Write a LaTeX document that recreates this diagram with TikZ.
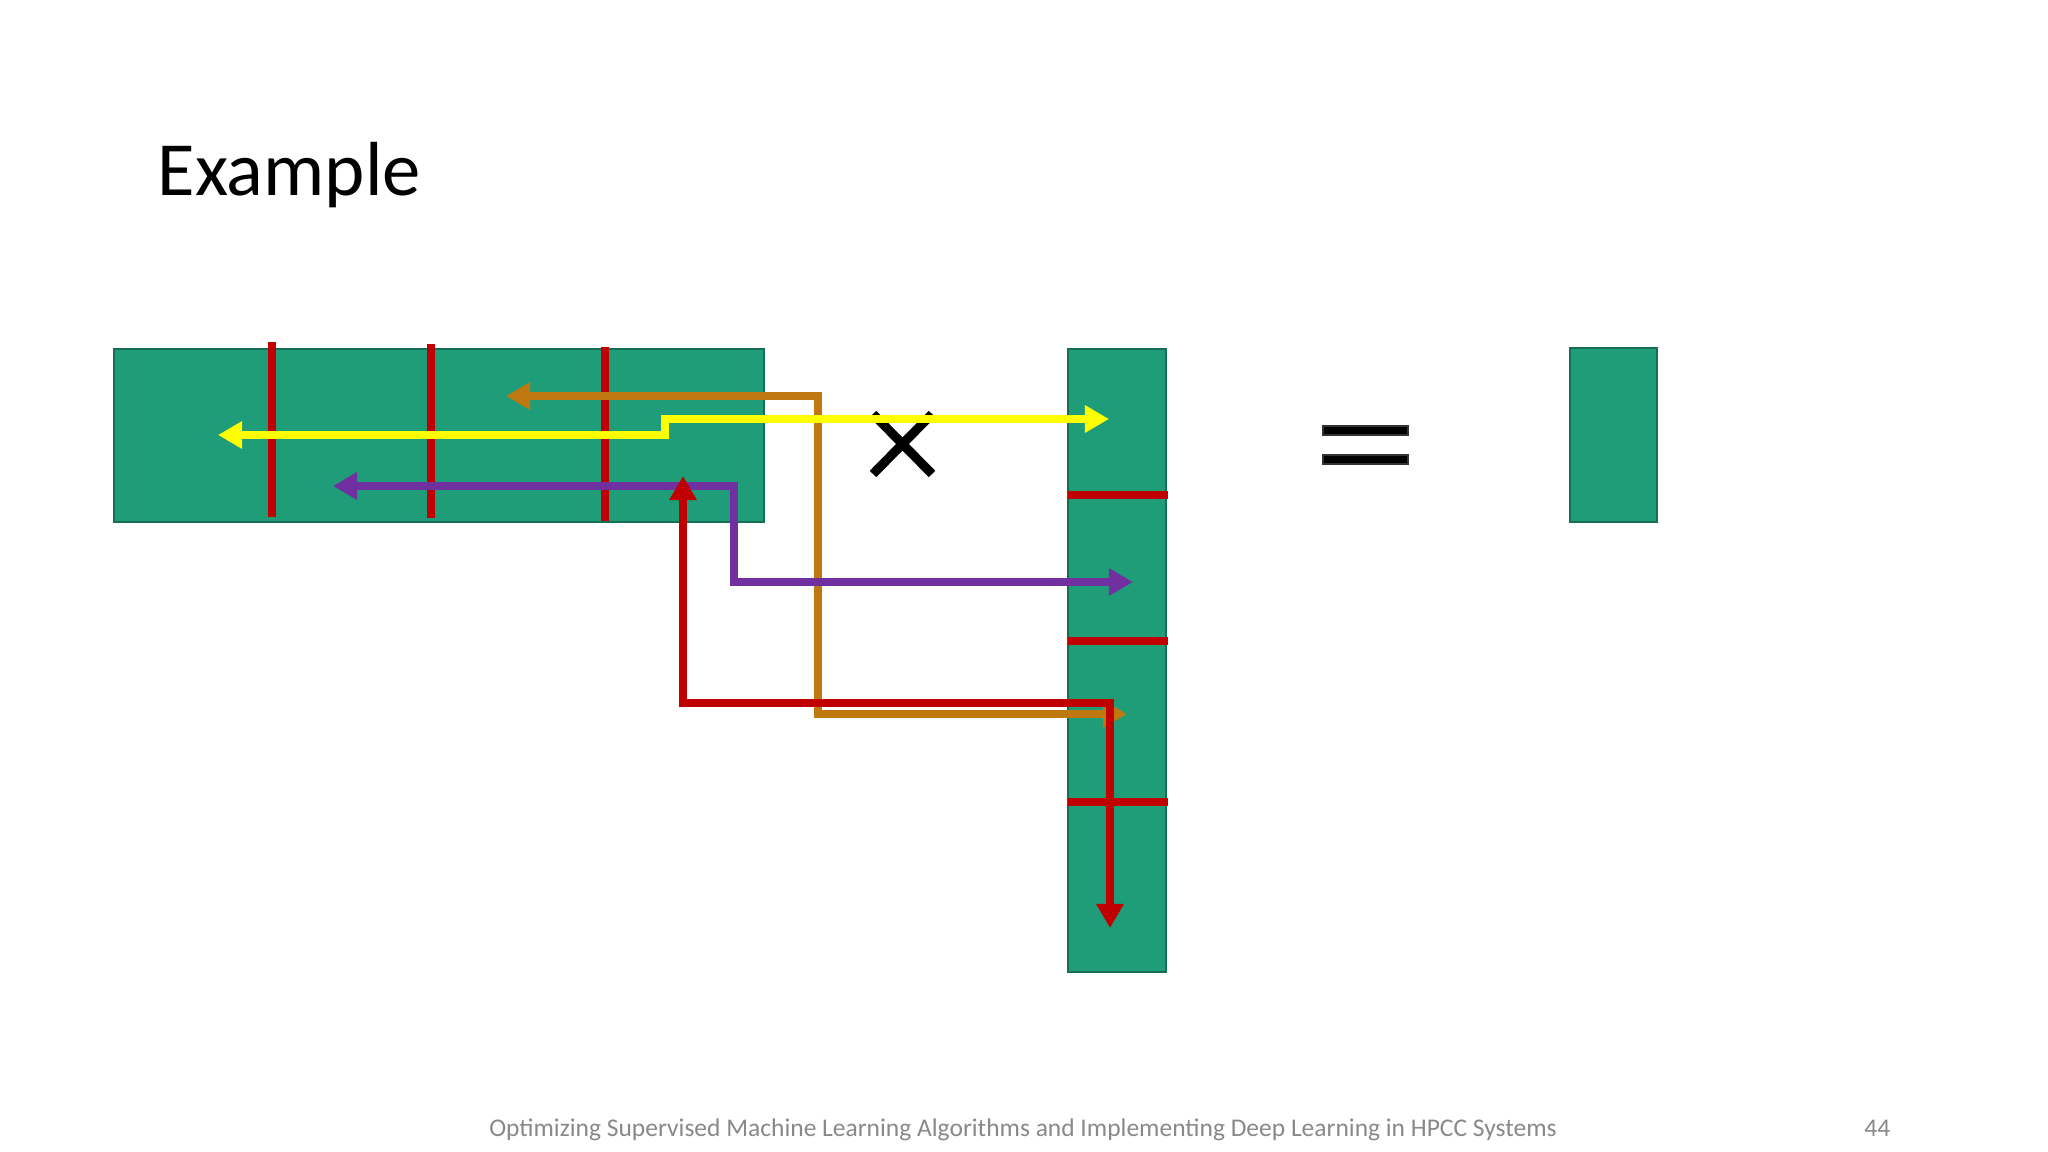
\documentclass[tikz,border=0pt]{standalone}
\usepackage{fontspec}
\setmainfont{Carlito}
\usetikzlibrary{arrows.meta}
\definecolor{mgreen}{RGB}{30,157,120}
\definecolor{mborder}{RGB}{22,110,85}
\definecolor{mred}{RGB}{192,0,0}
\definecolor{myellow}{RGB}{255,255,0}
\definecolor{morange}{RGB}{191,120,16}
\definecolor{mpurple}{RGB}{112,48,160}
\definecolor{footgray}{RGB}{137,137,137}
\begin{document}
\begin{tikzpicture}[x=0.01cm,y=-0.01cm,
  mat/.style={draw=mborder,line width=0.6pt,fill=mgreen,inner sep=0pt,outer sep=0pt,anchor=north west},
  sepline/.style={draw=mred,line width=2.1pt},
  flow/.style={line width=2.2pt,
    arrows={Triangle[length=0.24cm,width=0.26cm]-Triangle[length=0.24cm,width=0.26cm]}},
  opsym/.style={line width=2.6pt,black},
  eqbar/.style={fill=black,draw=black!80,line width=0.3pt}
]
\useasboundingbox[fill=white] (0,0) rectangle (2048,1152);

% title and footer
\node[anchor=base west,inner sep=0pt,font=\fontsize{21.8}{26}\selectfont] (title) at (157,196) {Example};
\node[anchor=base,inner sep=0pt,text=footgray,font=\fontsize{7.25}{9}\selectfont] (foot) at (1023,1136)
  {Optimizing Supervised Machine Learning Algorithms and Implementing Deep Learning in HPCC Systems};
\node[anchor=base east,inner sep=0pt,text=footgray,font=\fontsize{7.25}{9}\selectfont] (page) at (1891,1136) {44};

% matrices
\node[mat,minimum width=6.5cm,minimum height=1.725cm] (A) at (114,349) {};
\node[mat,minimum width=0.98cm,minimum height=6.23cm] (B) at (1068,349) {};
\node[mat,minimum width=0.87cm,minimum height=1.735cm] (C) at (1570,348) {};

% separators in A
\draw[sepline] (272,342) -- (272,517);
\draw[sepline] (431,344) -- (431,518);
\draw[sepline] (605,347) -- (605,521);
% separators in B
\draw[sepline] (B.west |- 0,495) -- (1168,495);
\draw[sepline] (B.west |- 0,641) -- (1168,641);
\draw[sepline] (B.west |- 0,802) -- (1168,802);

% times symbol
\coordinate (x1) at (873,414); \coordinate (x2) at (932,474);
\coordinate (x3) at (932,414); \coordinate (x4) at (873,474);
\draw[opsym] (x1) -- (x2);
\draw[opsym] (x3) -- (x4);

% equals symbol
\draw[eqbar] (1323,426) rectangle (1408,435);
\draw[eqbar] (1323,455) rectangle (1408,464);

% flows
\coordinate (o1) at (506,396); \coordinate (o2) at (818,396);
\coordinate (o3) at (818,714); \coordinate (o4) at (1127,714);
\draw[flow,morange] (o1) -- (o2) -- (o3) -- (o4);

\coordinate (y1) at (218,435); \coordinate (y2) at (665,435);
\coordinate (y3) at (665,419); \coordinate (y4) at (1109,419);
\draw[flow,myellow] (y1) -- (y2) -- (y3) -- (y4);

\coordinate (p1) at (333,486); \coordinate (p2) at (734,486);
\coordinate (p3) at (734,582); \coordinate (p4) at (1133,582);
\draw[flow,mpurple] (p1) -- (p2) -- (p3) -- (p4);

\coordinate (r1) at (683,476); \coordinate (r2) at (683,703);
\coordinate (r3) at (1110,703); \coordinate (r4) at (1110,928);
\draw[flow,mred] (r1) -- (r2) -- (r3) -- (r4);
\end{tikzpicture}
\end{document}
